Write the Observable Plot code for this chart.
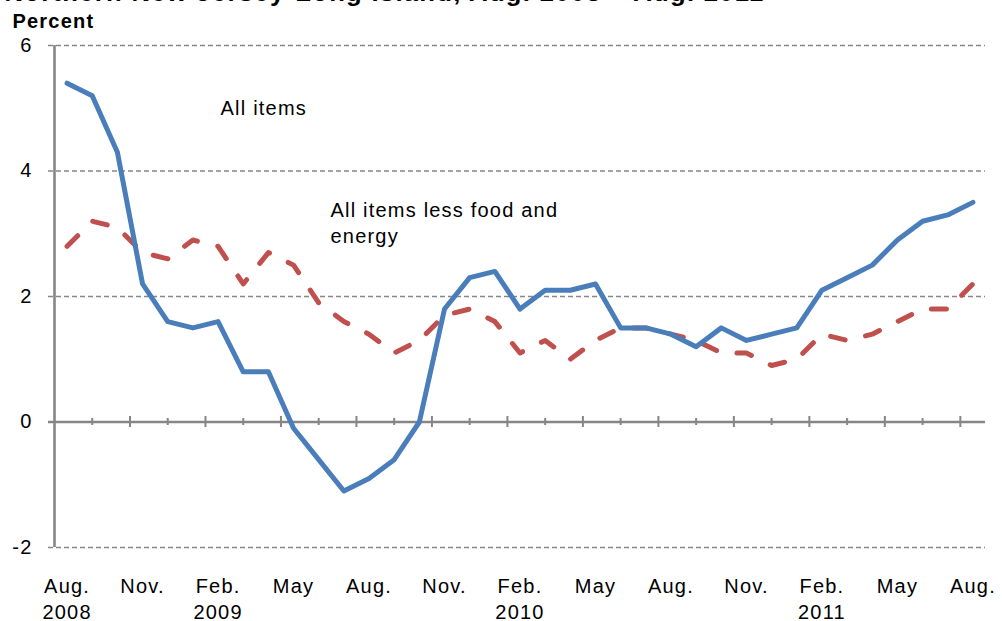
<!DOCTYPE html>
<html>
<head>
<meta charset="utf-8">
<script src="https://cdn.jsdelivr.net/npm/d3@7"></script>
<script src="https://cdn.jsdelivr.net/npm/@observablehq/plot@0.6"></script>
<style>
  html, body { margin: 0; padding: 0; background: #fff; overflow: hidden; }
  #chart svg { display: block; }
</style>
</head>
<body>
<div id="chart"></div>
<script>
// ---- data ----
const titleText = "Northern New Jersey-Long Island, Aug. 2008 \u2013 Aug. 2011";
const yLabel = "Percent";
const allItems = [5.4, 5.2, 4.3, 2.2, 1.6, 1.5, 1.6, 0.8, 0.8, -0.1, -0.6, -1.1, -0.9, -0.6, 0.0,
  1.8, 2.3, 2.4, 1.8, 2.1, 2.1, 2.2, 1.5, 1.5, 1.4, 1.2, 1.5, 1.3, 1.4, 1.5,
  2.1, 2.3, 2.5, 2.9, 3.2, 3.3, 3.5];
const coreItems = [2.8, 3.2, 3.1, 2.7, 2.6, 2.9, 2.8, 2.2, 2.7, 2.5, 1.9, 1.6, 1.4, 1.1, 1.3,
  1.7, 1.8, 1.6, 1.1, 1.3, 1.0, 1.3, 1.5, 1.5, 1.4, 1.3, 1.1, 1.1, 0.9, 1.0,
  1.4, 1.3, 1.4, 1.6, 1.8, 1.8, 2.2];
const xTickLabels = ["Aug.\n2008", "Nov.", "Feb.\n2009", "May", "Aug.", "Nov.", "Feb.\n2010",
  "May", "Aug.", "Nov.", "Feb.\n2011", "May", "Aug."];
const yTicks = [-2, 0, 2, 4, 6];
const gridValues = [-2, 2, 4, 6];
const annotations = [
  {i: 6.1, v: 5.02, text: "All items"},
  {i: 10.47, v: 3.2, text: "All items less food and\nenergy"}
];

// ---- derived tables ----
const n = allItems.length;
const allRows = allItems.map((v, i) => ({i, v}));
const coreRows = coreItems.map((v, i) => ({i, v}));
const labelPos = xTickLabels.map((_, k) => k * 3);
const majorTicks = d3.range(-0.5, n - 1, 3);          // category boundaries every 3 months
const minorTicks = d3.range(1, n - 1, 3);             // midway between major ticks

const grey = "#868686";
const font = "'Liberation Sans', Arial, Helvetica, sans-serif";

const chart = Plot.plot({
  width: 1002,
  height: 621,
  marginLeft: 54,
  marginRight: 17,
  marginTop: 45,
  marginBottom: 74,
  style: {fontFamily: font, fontSize: "20px", color: "#000", background: "#fff", letterSpacing: "1.2px"},
  x: {domain: [-0.5, n - 0.5], axis: null},
  y: {domain: [-2, 6], axis: null},
  marks: [
    Plot.ruleY(gridValues, {stroke: grey, strokeWidth: 1.5, strokeDasharray: "5,3", insetLeft: -6}),
    Plot.ruleY([0], {stroke: grey, strokeWidth: 2.6, insetLeft: -6}),
    Plot.ruleX([-0.5], {y1: -2, y2: 6, stroke: grey, strokeWidth: 2.6}),
    Plot.ruleX(majorTicks.slice(1), {x: d => d, y1: 0, y2: 0, insetTop: -5.5, insetBottom: -5.5, stroke: grey, strokeWidth: 2}),
    Plot.ruleX(minorTicks, {x: d => d, y1: 0, y2: 0, insetTop: -3.5, insetBottom: -3.5, stroke: grey, strokeWidth: 2}),
    Plot.axisY({ticks: yTicks, tickSize: 0, tickPadding: 22, tickFormat: d => String(d), fontSize: 20, fill: "#000", label: null}),
    Plot.axisX({ticks: labelPos, tickSize: 0, tickPadding: 27, tickFormat: (d, k) => xTickLabels[k],
      fontSize: 20, lineHeight: 1.3, fill: "#000", label: null}),
    Plot.line(coreRows, {x: "i", y: "v", stroke: "#c0504d", strokeWidth: 5, strokeDasharray: "15,21",
      strokeLinecap: "round", strokeLinejoin: "round"}),
    Plot.line(allRows, {x: "i", y: "v", stroke: "#4a7ebb", strokeWidth: 5, strokeLinejoin: "round"}),
    Plot.text(annotations, {x: "i", y: "v", text: "text", textAnchor: "start", lineAnchor: "middle",
      lineHeight: 1.3, fontSize: 20, fill: "#000"}),
    Plot.text([yLabel], {frameAnchor: "top-left", dx: -42, dy: -18, textAnchor: "start", lineAnchor: "bottom",
      fontWeight: "bold", fontSize: 20, fill: "#000"}),
    Plot.text([titleText], {frameAnchor: "top-left", dx: -50, dy: -45, textAnchor: "start", lineAnchor: "bottom",
      fontWeight: "bold", fontSize: 24, fill: "#000", className: "ttl"})
  ]
});

d3.select(chart).selectAll(".ttl text").attr("textLength", 760).attr("lengthAdjust", "spacingAndGlyphs");
document.getElementById("chart").appendChild(chart);
</script>
</body>
</html>
